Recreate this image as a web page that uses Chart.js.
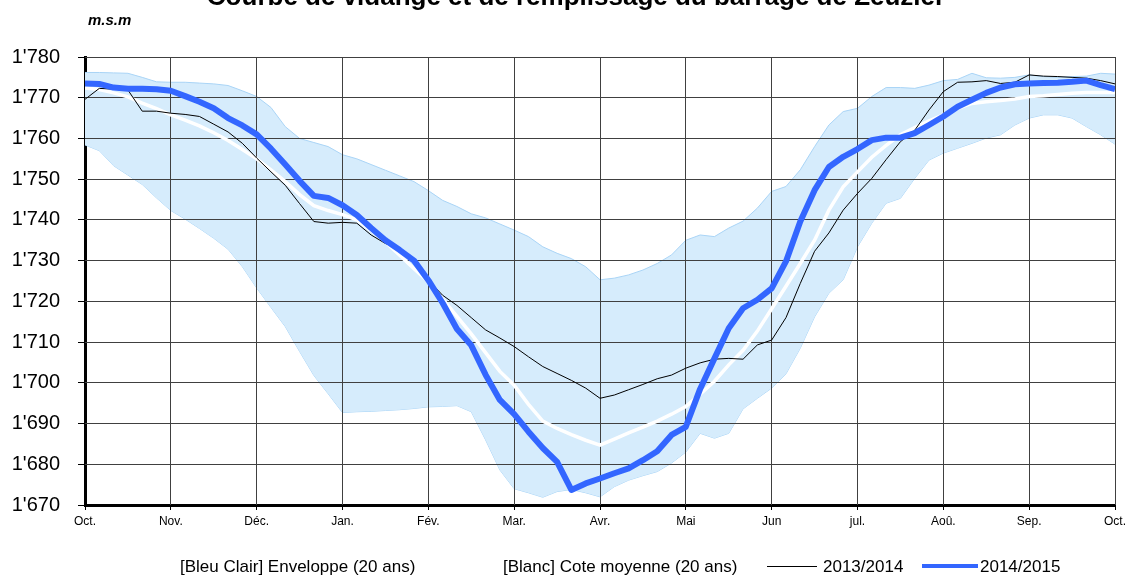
<!DOCTYPE html>
<html>
<head>
<meta charset="utf-8">
<script src="https://cdn.jsdelivr.net/npm/chart.js@4.4.1/dist/chart.umd.min.js"></script>
<style>
  html, body { margin: 0; padding: 0; background: #fff; overflow: hidden; }
  body { width: 1125px; height: 575px; position: relative; font-family: "Liberation Sans", Arial, sans-serif; color: #000; }
  #chart { position: absolute; left: 0; top: 0; }
  .txt { position: absolute; white-space: nowrap; }
  #title { left: 576px; top: -17px; transform: translateX(-50%); font-size: 26px; line-height: 26px; font-weight: bold; }
  #unit { left: 88px; top: 12px; font-size: 15px; line-height: 15px; font-weight: bold; font-style: italic; }
  .leg { top: 558px; font-size: 17px; line-height: 17px; }
  .swatch { position: absolute; }
</style>
</head>
<body>
<canvas id="chart" width="1125" height="575"></canvas>
<div id="title" class="txt">Courbe de vidange et de remplissage du barrage de Zeuzier</div>
<div id="unit" class="txt">m.s.m</div>
<div class="txt leg" style="left:180px">[Bleu Clair] Enveloppe (20 ans)</div>
<div class="txt leg" style="left:503px">[Blanc] Cote moyenne (20 ans)</div>
<div class="swatch" style="left:767px;top:566px;width:50px;height:1px;background:#000"></div>
<div class="txt leg" style="left:823px">2013/2014</div>
<div class="swatch" style="left:922px;top:564px;width:56px;height:4px;background:#3366ff"></div>
<div class="txt leg" style="left:980px">2014/2015</div>
<script>
// month labels, one every 6 points (73 points over the hydrological year)
const months = ['Oct.', 'Nov.', 'Déc.', 'Jan.', 'Fév.', 'Mar.', 'Avr.', 'Mai', 'Jun', 'jul.', 'Aoû.', 'Sep.', 'Oct.'];
const pointsPerMonth = 6;

// 20-year envelope (m.s.m)
const envelopeMax = [
  1776.2, 1776.2, 1776.1, 1776.0, 1775.0, 1773.9, 1773.8, 1773.8, 1773.6, 1773.4, 1773.0, 1771.7,
  1770.3, 1767.6, 1762.9, 1760.0, 1759.0, 1758.0, 1756.0, 1755.0, 1753.6, 1752.2, 1750.8, 1749.4,
  1747.2, 1744.8, 1743.3, 1741.5, 1740.5, 1739.0, 1737.5, 1735.9, 1733.4, 1731.8, 1730.5, 1728.5,
  1725.3, 1725.7, 1726.5, 1727.7, 1729.3, 1731.4, 1735.0, 1736.3, 1735.9, 1738.0, 1739.7, 1742.9,
  1747.0, 1748.2, 1752.3, 1758.0, 1763.3, 1766.6, 1767.4, 1770.3, 1772.5, 1772.5, 1772.3, 1773.1,
  1774.2, 1774.5, 1776.0, 1774.9, 1774.8, 1775.0, 1775.6, 1775.2, 1775.0, 1775.2, 1775.3, 1776.0,
  1775.8
];
const envelopeMin = [
  1758.4, 1757.0, 1753.3, 1751.0, 1748.7, 1745.4, 1742.3, 1740.2, 1737.9, 1735.5, 1732.8, 1728.5,
  1723.3, 1718.5, 1713.8, 1707.7, 1701.8, 1697.3, 1692.7, 1692.9, 1693.0, 1693.2, 1693.4, 1693.7,
  1694.1, 1694.2, 1694.4, 1692.9, 1686.0, 1678.6, 1674.0, 1673.0, 1671.9, 1673.3, 1673.8, 1673.0,
  1672.0, 1674.5, 1676.1, 1677.2, 1678.2, 1680.3, 1683.0, 1687.6, 1686.4, 1687.6, 1693.6, 1696.2,
  1698.7, 1702.2, 1708.5, 1716.2, 1722.0, 1725.3, 1733.4, 1739.2, 1744.1, 1745.3, 1750.2, 1754.7,
  1756.4, 1757.6, 1758.8, 1760.1, 1760.9, 1763.3, 1765.0, 1765.8, 1765.8, 1765.0, 1762.9, 1760.9,
  1758.6
];
// 20-year mean level
const meanLevel = [
  1772.4, 1772.0, 1771.2, 1770.2, 1768.7, 1767.3, 1765.8, 1764.5, 1763.1, 1761.4, 1759.5, 1757.3,
  1755.0, 1752.3, 1749.4, 1746.2, 1743.5, 1742.3, 1741.3, 1740.0, 1737.4, 1734.6, 1731.3, 1728.0,
  1724.8, 1720.6, 1716.3, 1712.0, 1707.4, 1702.8, 1699.4, 1694.7, 1690.6, 1688.8, 1687.3, 1685.9,
  1684.7, 1686.2, 1687.7, 1689.1, 1690.6, 1692.3, 1694.2, 1697.2, 1700.4, 1704.4, 1708.0, 1712.7,
  1718.2, 1723.7, 1729.3, 1735.0, 1742.4, 1748.1, 1751.8, 1755.4, 1758.3, 1760.9, 1762.7, 1764.3,
  1765.8, 1767.4, 1768.6, 1769.0, 1769.3, 1769.7, 1770.3, 1770.5, 1770.8, 1771.1, 1771.3, 1771.3,
  1771.3
];
const level2013 = [
  1769.6, 1772.3, 1772.1, 1771.9, 1766.7, 1766.7, 1766.2, 1765.9, 1765.4, 1763.5, 1761.6, 1758.8,
  1755.2, 1751.8, 1748.5, 1744.0, 1739.6, 1739.2, 1739.4, 1739.2, 1736.3, 1734.2, 1733.0, 1729.5,
  1725.2, 1721.5, 1719.0, 1716.0, 1713.0, 1711.0, 1708.9, 1706.4, 1704.0, 1702.3, 1700.6, 1698.7,
  1696.2, 1697.0, 1698.3, 1699.6, 1701.0, 1701.9, 1703.6, 1704.9, 1705.8, 1706.0, 1705.8, 1709.3,
  1710.5, 1716.0, 1724.4, 1732.3, 1736.8, 1742.4, 1746.5, 1750.2, 1754.8, 1759.2, 1762.0, 1767.0,
  1771.5, 1773.8, 1773.9, 1774.2, 1773.5, 1773.8, 1775.6, 1775.3, 1775.2, 1775.0, 1774.8, 1774.2,
  1773.4
];
const level2014 = [
  1773.5, 1773.4, 1772.5, 1772.2, 1772.2, 1772.1, 1771.7, 1770.4, 1769.0, 1767.4, 1765.0, 1763.2,
  1761.0, 1757.5, 1753.6, 1749.6, 1745.9, 1745.4, 1743.6, 1741.2, 1738.0, 1735.0, 1732.6, 1730.0,
  1725.2, 1719.6, 1713.2, 1709.2, 1702.0, 1695.8, 1692.3, 1688.0, 1684.0, 1680.6, 1673.7, 1675.3,
  1676.5, 1677.8, 1679.0, 1681.0, 1683.2, 1687.2, 1689.2, 1698.5, 1706.0, 1713.4, 1718.3, 1720.4,
  1723.2, 1729.8, 1739.6, 1747.3, 1753.0, 1755.5, 1757.4, 1759.6, 1760.2, 1760.2, 1761.3, 1763.3,
  1765.4, 1767.8, 1769.5, 1771.2, 1772.5, 1773.3, 1773.5, 1773.6, 1773.7, 1773.9, 1774.2, 1773.1,
  1772.1
];

const yMin = 1670, yMax = 1780, yStep = 10;

function toXY(arr) {
  return arr.map((v, i) => ({ x: i, y: v }));
}

function fmtLevel(v) {
  return String(v).replace(/\B(?=(\d{3})+(?!\d))/g, "'");
}

// grid drawn after the envelope fill, so it shows through it, but under the lines
const gridOverFill = {
  id: 'gridOverFill',
  afterDatasetDraw(chart, args) {
    if (args.index !== 1) return;
    const { ctx, chartArea: a, scales: { x, y } } = chart;
    const align = (p) => Math.round(p - 0.5) + 0.5;
    ctx.save();
    ctx.strokeStyle = '#404040';
    ctx.lineWidth = 1;
    ctx.beginPath();
    x.ticks.forEach(t => {
      if (t.value === x.min) return;
      const px = align(x.getPixelForValue(t.value));
      ctx.moveTo(px, a.top); ctx.lineTo(px, a.bottom);
    });
    y.ticks.forEach(t => {
      if (t.value === y.min) return;
      const py = align(y.getPixelForValue(t.value));
      ctx.moveTo(a.left, py); ctx.lineTo(a.right, py);
    });
    ctx.stroke();
    ctx.restore();
  }
};

const line = { pointRadius: 0, tension: 0, fill: false };

new Chart(document.getElementById('chart'), {
  type: 'line',
  data: {
    datasets: [
      { ...line, label: 'min', data: toXY(envelopeMin), borderColor: '#a9d4f6', borderWidth: 1, order: 11 },
      { ...line, label: '[Bleu Clair] Enveloppe (20 ans)', data: toXY(envelopeMax), borderColor: '#a9d4f6', borderWidth: 1,
        fill: '-1', backgroundColor: '#d6ecfc', order: 10 },
      { ...line, label: '[Blanc] Cote moyenne (20 ans)', data: toXY(meanLevel), borderColor: '#ffffff', borderWidth: 3.5, order: 3 },
      { ...line, label: '2013/2014', data: toXY(level2013), borderColor: '#000000', borderWidth: 1, order: 2 },
      { ...line, label: '2014/2015', data: toXY(level2014), borderColor: '#3366ff', borderWidth: 6,
        borderJoinStyle: 'round', order: 1 }
    ]
  },
  plugins: [gridOverFill],
  options: {
    responsive: false,
    animation: false,
    devicePixelRatio: 1,
    layout: { padding: { top: 57, right: 10, bottom: 0, left: 0 } },
    plugins: {
      legend: { display: false },
      title: { display: false },
      tooltip: { enabled: false }
    },
    scales: {
      x: {
        type: 'linear',
        min: 0,
        max: (months.length - 1) * pointsPerMonth,
        afterFit: (s) => { s.height = 70; s.paddingLeft = 0; s.paddingRight = 0; },
        afterBuildTicks: (s) => {
          s.ticks = months.map((m, i) => ({ value: i * pointsPerMonth }));
        },
        ticks: {
          autoSkip: false,
          maxRotation: 0,
          padding: 4,
          color: '#000',
          font: { family: '"Liberation Sans", Arial, sans-serif', size: 12 },
          callback: (v) => months[Math.round(v / pointsPerMonth)]
        },
        grid: { drawOnChartArea: false, tickLength: 5, tickColor: '#000' },
        border: { display: true, color: '#000', width: 3 }
      },
      y: {
        min: yMin,
        max: yMax,
        afterFit: (s) => { s.width = 85; },
        ticks: {
          stepSize: yStep,
          padding: 18,
          color: '#000',
          font: { family: '"Liberation Sans", Arial, sans-serif', size: 20 },
          callback: (v) => fmtLevel(v)
        },
        grid: { drawOnChartArea: false, tickLength: 7, tickColor: '#000' },
        border: { display: true, color: '#000', width: 3 }
      }
    }
  }
});
</script>
</body>
</html>
